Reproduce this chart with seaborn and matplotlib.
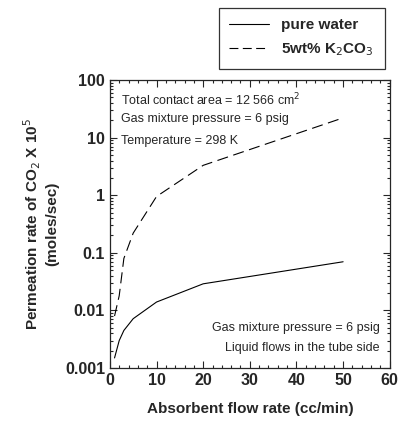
import matplotlib
matplotlib.use("Agg")
import matplotlib.pyplot as plt
import pandas as pd
import seaborn as sns
from matplotlib.ticker import MultipleLocator, LogLocator, FixedLocator, FixedFormatter

sns.set_style("ticks")
plt.rcParams["font.family"] = ["Liberation Sans", "DejaVu Sans"]

# 값은 그림에서 읽은 추정치
flow_rate = [1, 2, 3, 5, 10, 20, 50]
pure_water = [0.0015, 0.003, 0.0045, 0.0072, 0.014, 0.029, 0.07]
k2co3 = [0.008, 0.018, 0.08, 0.22, 0.95, 3.3, 22]
series_names = ["pure water", "5wt% K$_2$CO$_3$"]
y_ticks = [0.001, 0.01, 0.1, 1, 10, 100]
y_tick_labels = ["0.001", "0.01", "0.1", "1", "10", "100"]

df = pd.DataFrame({
    "flow": flow_rate * 2,
    "rate": pure_water + k2co3,
    "solvent": [series_names[0]] * len(flow_rate) + [series_names[1]] * len(flow_rate),
})

fig = plt.figure(figsize=(4.01, 4.30), dpi=100)
ax = fig.add_axes([0.274, 0.144, 0.698, 0.670])

sns.lineplot(data=df, x="flow", y="rate", style="solvent", style_order=series_names,
             dashes={series_names[0]: "", series_names[1]: (10, 5)},
             color="black", linewidth=0.8, ax=ax, legend=False)

ax.set_yscale("log")
ax.set_xlim(0, 60)
ax.set_ylim(0.001, 100)
ax.xaxis.set_major_locator(MultipleLocator(10))
ax.xaxis.set_minor_locator(MultipleLocator(2))
ax.yaxis.set_major_locator(FixedLocator(y_ticks))
ax.yaxis.set_major_formatter(FixedFormatter(y_tick_labels))
ax.yaxis.set_minor_locator(LogLocator(base=10, subs=range(2, 10), numticks=20))
ax.tick_params(which="both", direction="in", top=True, right=True, width=0.8)
ax.tick_params(which="major", length=5, labelsize=11.5)
ax.tick_params(which="minor", length=2.5)
for lab in ax.get_xticklabels() + ax.get_yticklabels():
    lab.set_fontweight("bold")
for sp in ax.spines.values():
    sp.set_linewidth(0.9)

ax.set_xlabel("Absorbent flow rate (cc/min)", fontsize=11, fontweight="bold", labelpad=10)
ax.set_ylabel("Permeation rate of CO$_2$ X 10$^5$\n(moles/sec)", fontsize=11,
              fontweight="bold", labelpad=4)

ax.text(0.04, 0.96, "Total contact area = 12 566 cm$^2$", transform=ax.transAxes,
        fontsize=9, va="top", ha="left")
ax.text(0.04, 0.885, "Gas mixture pressure = 6 psig", transform=ax.transAxes,
        fontsize=9, va="top", ha="left")
ax.text(0.04, 0.81, "Temperature = 298 K", transform=ax.transAxes,
        fontsize=9, va="top", ha="left")
ax.text(0.965, 0.12, "Gas mixture pressure = 6 psig", transform=ax.transAxes,
        fontsize=9, va="bottom", ha="right")
ax.text(0.965, 0.05, "Liquid flows in the tube side", transform=ax.transAxes,
        fontsize=9, va="bottom", ha="right")

handles = [plt.Line2D([], [], color="black", lw=0.8),
           plt.Line2D([], [], color="black", lw=0.8, dashes=(8, 4))]
leg = fig.legend(handles, series_names, loc="upper right", bbox_to_anchor=(0.978, 1.0),
                 frameon=True, fancybox=False, edgecolor="black", handlelength=2.6,
                 prop={"weight": "bold", "size": 11}, borderpad=0.7, labelspacing=0.6)
leg.get_frame().set_linewidth(0.9)

fig.savefig("out.png", dpi=100)
